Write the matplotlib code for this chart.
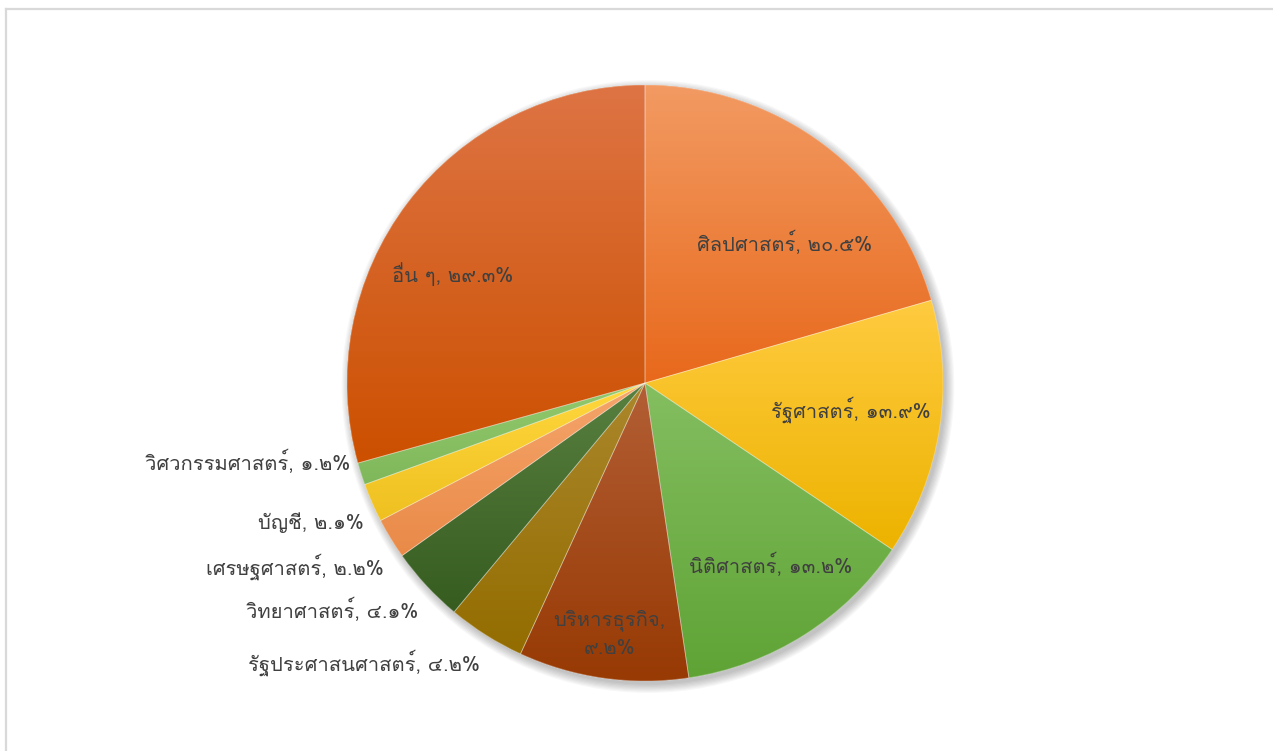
import matplotlib
matplotlib.use("Agg")
import matplotlib.pyplot as plt
import numpy as np
from matplotlib.colors import LinearSegmentedColormap
from matplotlib.lines import Line2D
from matplotlib.patches import Circle, Wedge

# data, clockwise from 12 o'clock
faculties = ["ศิลปศาสตร์", "รัฐศาสตร์", "นิติศาสตร์", "บริหารธุรกิจ",
             "รัฐประศาสนศาสตร์", "วิทยาศาสตร์", "เศรษฐศาสตร์", "บัญชี",
             "วิศวกรรมศาสตร์", "อื่น ๆ"]
shares = [20.5, 13.9, 13.2, 9.2, 4.2, 4.1, 2.2, 2.1, 1.2, 29.3]

# slice colours: (top of gradient, bottom of gradient)
colors = [("#F29A62", "#E8691C"), ("#FFCB40", "#EDB300"), ("#84BE60", "#5FA335"),
          ("#B35E35", "#973A04"), ("#AB872C", "#936D00"), ("#58803F", "#365C20"),
          ("#F6A56B", "#E98A48"), ("#FFD83E", "#EFC020"), ("#92C96E", "#7FB85A"),
          ("#DE7444", "#CC5000")]

# label anchors (data units, pie radius = 1) and alignment
label_pos = [(0.47, 0.47, "center"), (0.69, -0.09, "center"), (0.42, -0.61, "center"),
             (-0.12, -0.84, "center"), (-0.555, -0.94, "right"), (-0.76, -0.76, "right"),
             (-0.875, -0.615, "right"), (-0.945, -0.47, "right"), (-0.99, -0.265, "right"),
             (-0.645, 0.365, "center")]

thai_digits = str.maketrans("0123456789", "๐๑๒๓๔๕๖๗๘๙")

# Loma puts tone marks high by default, so stacked marks stay readable
plt.rcParams['font.family'] = ['Loma', 'Noto Sans Thai Looped', 'DejaVu Sans']

W, H = 1273, 751
fig = plt.figure(figsize=(W / 100, H / 100), dpi=100)
cx, cy, r = 645, 383, 298
ax = fig.add_axes([(cx - r) / W, (H - cy - r) / H, 2 * r / W, 2 * r / H])

# soft shadow
for k in range(8):
    ax.add_patch(Circle((0.010, -0.012), 1.0 + 0.004 * k, color="black",
                        alpha=0.03, lw=0, zorder=0, clip_on=False))

wedges, _ = ax.pie(shares, startangle=90, counterclock=False, radius=1,
                   colors=[c[1] for c in colors], wedgeprops=dict(linewidth=0))

grad = np.linspace(1, 0, 64).reshape(-1, 1)
for w, (top, bottom) in zip(wedges, colors):
    w.set_zorder(1)
    ext = w.get_path().get_extents()
    cmap = LinearSegmentedColormap.from_list("g", [bottom, top])
    im = ax.imshow(grad, extent=[ext.x0, ext.x1, ext.y0, ext.y1], cmap=cmap,
                   vmin=0, vmax=1, aspect="auto", zorder=2, interpolation="bilinear")
    im.set_clip_path(w)
    ax.add_patch(Wedge(w.center, w.r, w.theta1, w.theta2, facecolor="none",
                       edgecolor=(1, 1, 1, 0.35), linewidth=0.6, zorder=3))

for name, val, (x, y, ha) in zip(faculties, shares, label_pos):
    num = f"{val:.1f}".translate(thai_digits)
    if name == "บริหารธุรกิจ":
        txt = f"{name},\n{num}%"
    else:
        txt = f"{name}, {num}%"
    ax.text(x, y, txt, ha=ha, va="center", fontsize=14.5, color="#404040",
            linespacing=1.5, zorder=5)

ax.set_xlim(-1, 1)
ax.set_ylim(-1, 1)
ax.axis("off")

# chart frame (only top and left edges fall inside the picture)
fig.add_artist(Line2D([6 / W, 6 / W], [0, 1 - 9 / H], color="#D9D9D9", lw=1.6))
fig.add_artist(Line2D([6 / W, 1], [1 - 9 / H, 1 - 9 / H], color="#D9D9D9", lw=1.6))

fig.savefig("out.png", dpi=100)
